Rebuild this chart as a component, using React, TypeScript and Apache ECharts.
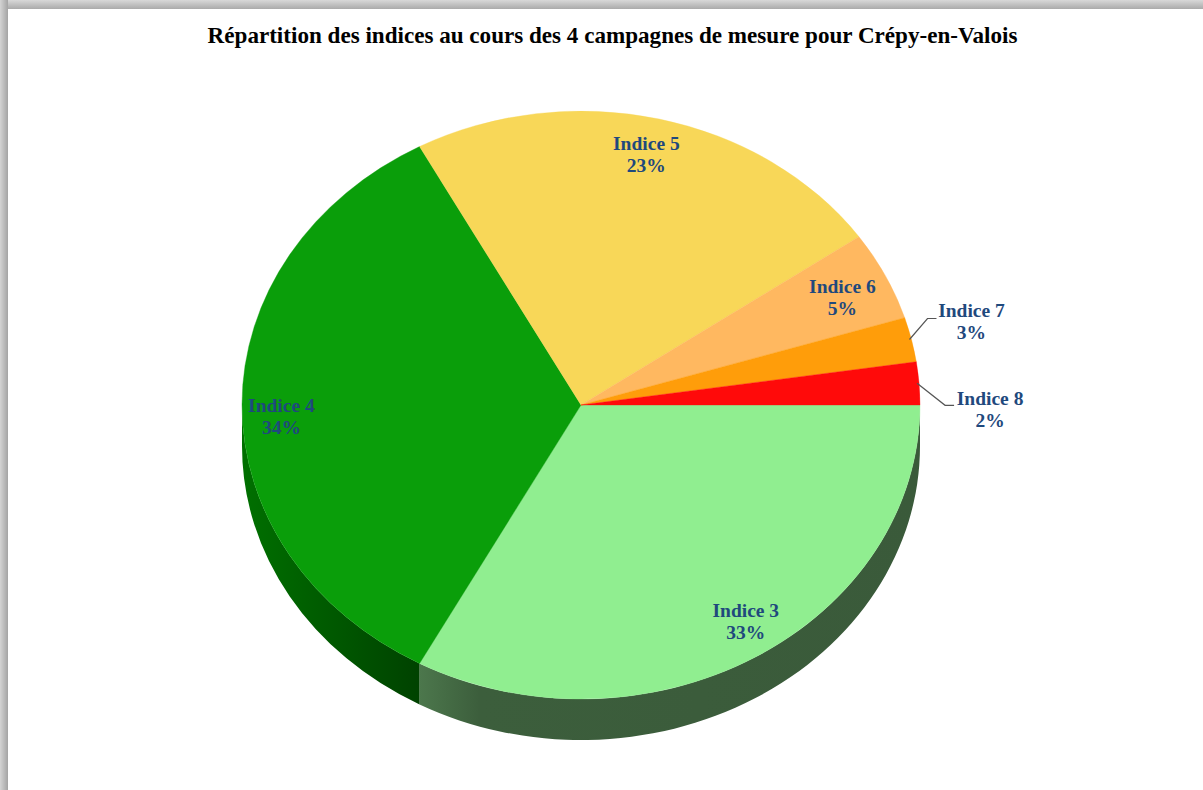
import React, { useEffect, useRef } from "react";
import * as echarts from "echarts";

const TITLE = "Répartition des indices au cours des 4 campagnes de mesure pour Crépy-en-Valois";
const categories = ["Indice 3", "Indice 4", "Indice 5", "Indice 6", "Indice 7", "Indice 8"];
const values = [32.9, 34.2, 23.2, 4.9, 2.45, 2.35];
const percentLabels = ["33%", "34%", "23%", "5%", "3%", "2%"];
const colors = ["#90ee90", "#0a9e0a", "#f8d758", "#ffb860", "#ff9d0a", "#ff0a0a"];

const W = 1203, H = 790;
const CX = 581, CY = 405, RX = 339, RY = 294, DEPTH = 41;
const LABEL_R = 0.875;
const LABEL_NUDGE = [[13, -5], [-3, 11.5], [-3, 0], [-5, 6]];
const SERIF = '"Liberation Serif", "Times New Roman", serif';
const LABEL_COLOR = "#1f497d";

const total = values.reduce((a, b) => a + b, 0);
const spans = (() => {
  let acc = 0;
  return values.map((v) => {
    const s = acc;
    acc += (v / total) * Math.PI * 2;
    return [s, acc];
  });
})();

const pt = (a: number, rx = RX, ry = RY, dy = 0) => [CX + rx * Math.cos(a), CY + ry * Math.sin(a) + dy];

const wallFills: any = {
  0: { type: "linear", x: 0, y: 0, x2: 1, y2: 0, colorStops: [
    { offset: 0, color: "#4c774c" }, { offset: 0.12, color: "#3c5e3c" }, { offset: 1, color: "#3a5a3a" } ] },
  1: { type: "linear", x: 0, y: 0, x2: 1, y2: 0, colorStops: [
    { offset: 0, color: "#007000" }, { offset: 1, color: "#004200" } ] },
};

const renderWall = (params: any) => {
  const [s, e0] = spans[params.dataIndex];
  const e = Math.min(e0, Math.PI);
  if (s >= Math.PI) return { type: "group", children: [] };
  const p1 = pt(s), p2 = pt(e), p3 = pt(e, RX, RY, DEPTH), p4 = pt(s, RX, RY, DEPTH);
  const d = `M${p1[0]} ${p1[1]}A${RX} ${RY} 0 0 1 ${p2[0]} ${p2[1]}L${p3[0]} ${p3[1]}A${RX} ${RY} 0 0 0 ${p4[0]} ${p4[1]}Z`;
  return { type: "path", shape: { pathData: d }, style: { fill: wallFills[params.dataIndex] } };
};

const renderTop = (params: any) => {
  const [s, e] = spans[params.dataIndex];
  const c = colors[params.dataIndex];
  return {
    type: "sector",
    x: CX, y: CY, scaleY: RY / RX,
    shape: { cx: 0, cy: 0, r0: 0, r: RX, startAngle: s, endAngle: e, clockwise: true },
    style: { fill: c, stroke: c, lineWidth: 0.4 },
  };
};

const renderLabel = (params: any) => {
  const i = params.dataIndex;
  const [s, e] = spans[i];
  const mid = (s + e) / 2;
  const text = `${categories[i]}\n${percentLabels[i]}`;
  const font = { fontFamily: SERIF, fontWeight: "bold", fontSize: 19.5, lineHeight: 22, fill: LABEL_COLOR, align: "center", verticalAlign: "middle" };
  if (i < 4) {
    const [x, y] = pt(mid, RX * LABEL_R, RY * LABEL_R);
    return { type: "text", x: x + LABEL_NUDGE[i][0], y: y + LABEL_NUDGE[i][1], style: { ...font, text } };
  }
  const [ax, ay] = pt(mid);
  const elbow = i === 4 ? [ax + 16, ay - 21] : [ax + 26, ay + 22];
  const end = [elbow[0] + 9, elbow[1]];
  return {
    type: "group",
    children: [
      { type: "polyline", shape: { points: [[ax - 2, ay], elbow, end] }, style: { fill: "none", stroke: "#555555", lineWidth: 1.2 } },
      { type: "text", x: elbow[0] + (i === 4 ? 44 : 45), y: elbow[1] + (i === 4 ? 3 : 4), style: { ...font, text } },
    ],
  };
};

export default function App() {
  const ref = useRef<HTMLDivElement>(null);
  useEffect(() => {
    const chart = echarts.init(ref.current!, null, { renderer: "svg" });
    const rows = values.map((v, i) => ({ name: categories[i], value: v }));
    chart.setOption({
      animation: false,
      backgroundColor: "#ffffff",
      title: {
        text: TITLE, left: 607.5, top: 18, textAlign: "center",
        textStyle: { fontFamily: SERIF, fontWeight: "bold", fontSize: 23.1, color: "#000000" },
      },
      graphic: [
        { type: "rect", z: 100, shape: { x: 8, y: 0, width: W - 8, height: 9 },
          style: { fill: { type: "linear", x: 0, y: 0, x2: 0, y2: 1, colorStops: [{ offset: 0, color: "#d8d8d8" }, { offset: 1, color: "#aaaaaa" }] } } },
        { type: "rect", z: 100, shape: { x: 0, y: 0, width: 8, height: H },
          style: { fill: { type: "linear", x: 0, y: 0, x2: 1, y2: 0, colorStops: [{ offset: 0, color: "#d4d4d4" }, { offset: 1, color: "#a4a4a4" }] } } },
      ],
      series: [
        { type: "custom", coordinateSystem: "none", z: 1, silent: true, data: rows, renderItem: renderWall },
        { type: "custom", coordinateSystem: "none", z: 2, silent: true, data: rows, renderItem: renderTop },
        { type: "custom", coordinateSystem: "none", z: 3, silent: true, data: rows, renderItem: renderLabel },
      ],
    });
    return () => chart.dispose();
  }, []);
  return <div ref={ref} style={{ position: "fixed", left: 0, top: 0, width: W, height: H }} />;
}
